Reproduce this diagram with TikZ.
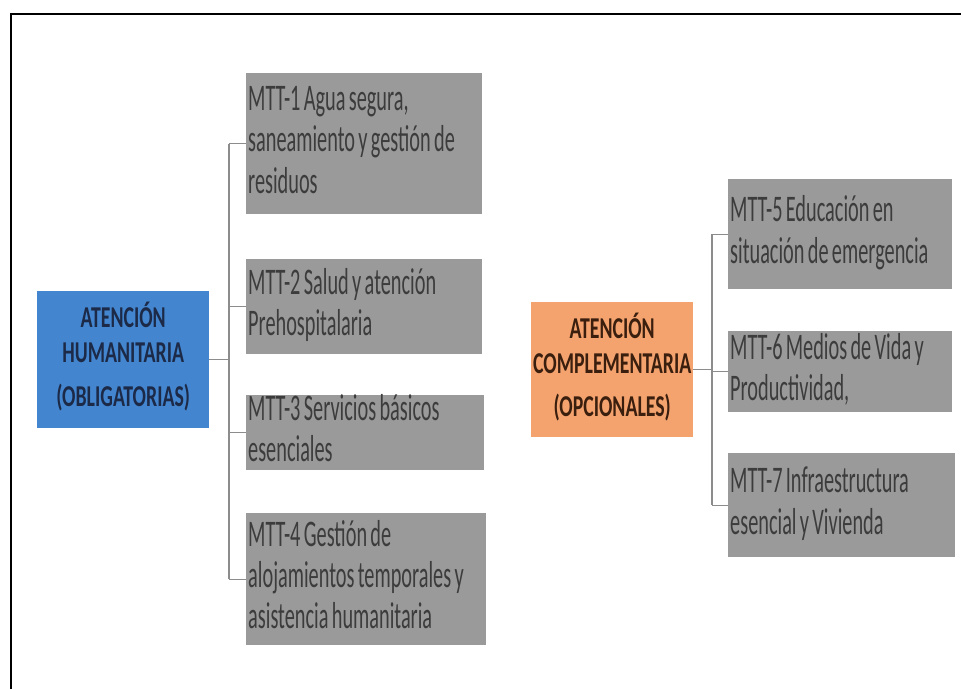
\documentclass[tikz,border=0pt]{standalone}
\usepackage{fontspec}
\usepackage{graphicx}
\setmainfont{Carlito}
\definecolor{bluebox}{HTML}{4386CF}
\definecolor{orangebox}{HTML}{F4A36F}
\definecolor{greybox}{HTML}{9A9A9A}
\definecolor{greytext}{HTML}{3C3C3C}
\definecolor{bluetext}{HTML}{1C2A48}
\definecolor{orangetext}{HTML}{3A1E0E}
\definecolor{linkgrey}{HTML}{8C8C8C}
\newcommand\greytxt[1]{\raisebox{\dimexpr(\depth-\height)/2\relax}[0pt][0pt]{\scalebox{1}[1.85]{\fontsize{20.3}{22.4}\selectfont\begin{tabular}{@{}l@{}}#1\end{tabular}}}}
\newcommand\headtxt[1]{\raisebox{\dimexpr(\depth-\height)/2\relax}[0pt][0pt]{\scalebox{1}[1.53]{\fontsize{19.8}{22.9}\selectfont\bfseries\begin{tabular}{@{}c@{}}#1\end{tabular}}}}
\begin{document}
\begin{tikzpicture}[x=1pt,y=-1pt,
  mtt/.style={fill=greybox, anchor=north west, inner ysep=0pt, inner xsep=2pt,
    align=left, text=greytext},
  headbox/.style={anchor=north west, inner sep=0pt, align=center},
  link/.style={draw=linkgrey, line width=1.4pt}]
\useasboundingbox (0,0) rectangle (961,689);
\fill[white] (0,0) rectangle (961,689);
\draw[line width=2.5pt] (11,689) -- (11,14) -- (961,14);
% left group
\node[headbox, fill=bluebox, text=bluetext, minimum width=172pt, minimum height=137pt] (hum) at (37,291)
  {\headtxt{ATENCIÓN\\HUMANITARIA\\[6pt](OBLIGATORIAS)}};
\node[mtt, minimum width=236pt, text width=232pt, minimum height=141pt] (m1) at (246,73)
  {\greytxt{MTT-1 Agua segura,\\saneamiento y gestión de\\residuos}};
\node[mtt, minimum width=236pt, text width=232pt, minimum height=95pt] (m2) at (246,259)
  {\greytxt{MTT-2 Salud y atención\\Prehospitalaria}};
\node[mtt, minimum width=238pt, text width=234pt, minimum height=75pt] (m3) at (246,395)
  {\greytxt{MTT-3 Servicios básicos\\esenciales}};
\node[mtt, minimum width=240pt, text width=236pt, minimum height=132pt] (m4) at (246,513)
  {\greytxt{MTT-4 Gestión de\\alojamientos temporales y\\asistencia humanitaria}};
% right group
\node[headbox, fill=orangebox, text=orangetext, minimum width=162pt, minimum height=135pt] (comp) at (531,302)
  {\headtxt{ATENCIÓN\\COMPLEMENTARIA\\[5pt](OPCIONALES)}};
\node[mtt, minimum width=224pt, text width=220pt, minimum height=110pt] (m5) at (728,179)
  {\greytxt{MTT-5 Educación en\\situación de emergencia}};
\node[mtt, minimum width=224pt, text width=220pt, minimum height=81pt] (m6) at (728,331)
  {\greytxt{MTT-6 Medios de Vida y\\Productividad,}};
\node[mtt, minimum width=227pt, text width=223pt, minimum height=104pt] (m7) at (728,453)
  {\greytxt{MTT-7 Infraestructura\\esencial y Vivienda}};
% connectors
\coordinate (busL) at (229,0);
\coordinate (busR) at (712,0);
\draw[link] (hum.east) -- (hum.east -| busL);
\draw[link] (m1.west -| busL) -- (m4.west -| busL);
\foreach \n in {m1,m2,m3,m4} \draw[link] (\n.west -| busL) -- (\n.west);
\draw[link] (comp.east) -- (comp.east -| busR);
\draw[link] (m5.west -| busR) -- (m7.west -| busR);
\foreach \n in {m5,m6,m7} \draw[link] (\n.west -| busR) -- (\n.west);
\end{tikzpicture}
\end{document}
